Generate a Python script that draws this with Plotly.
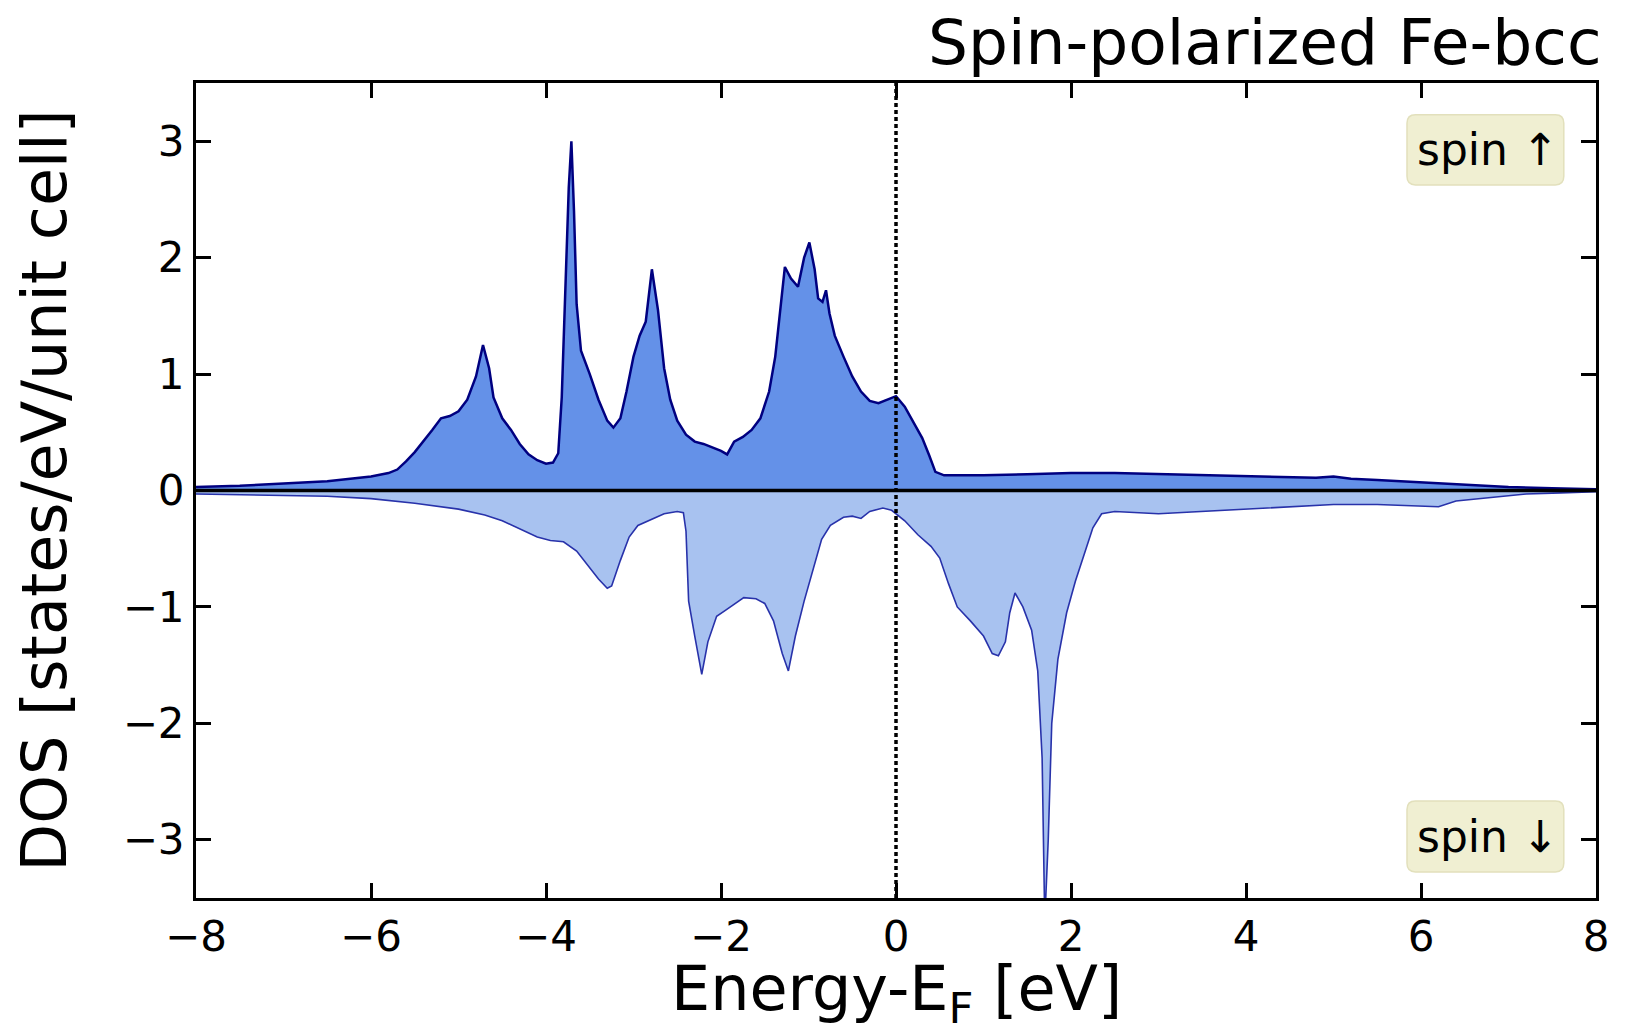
import plotly.graph_objects as go

# ---- data ----
energy_up = [-8.0, -7.5, -7.0, -6.5, -6.0, -5.8, -5.7, -5.6, -5.5, -5.4, -5.3, -5.2, -5.1, -5.0,
             -4.9, -4.8, -4.72, -4.65, -4.6, -4.5, -4.4, -4.3, -4.2, -4.1, -4.0, -3.92, -3.86,
             -3.82, -3.78, -3.74, -3.71, -3.68, -3.65, -3.6, -3.5, -3.4, -3.3, -3.23, -3.15,
             -3.08, -3.0, -2.93, -2.86, -2.79, -2.72, -2.65, -2.58, -2.5, -2.4, -2.3, -2.2,
             -2.1, -2.0, -1.93, -1.85, -1.75, -1.65, -1.55, -1.45, -1.38, -1.32, -1.27, -1.2,
             -1.12, -1.05, -0.99, -0.93, -0.89, -0.84, -0.8, -0.76, -0.7, -0.6, -0.5, -0.4,
             -0.3, -0.2, -0.1, 0.0, 0.1, 0.2, 0.3, 0.38, 0.45, 0.55, 0.7, 1.0, 1.5, 2.0, 2.5,
             3.0, 3.5, 4.0, 4.5, 4.8, 5.0, 5.2, 5.5, 6.0, 6.5, 7.0, 7.5, 8.0]
dos_up = [0.03, 0.04, 0.06, 0.08, 0.12, 0.15, 0.18, 0.25, 0.33, 0.42, 0.52, 0.62, 0.64, 0.68,
          0.78, 0.98, 1.25, 1.05, 0.80, 0.62, 0.52, 0.40, 0.31, 0.26, 0.23, 0.24, 0.32,
          0.8, 1.7, 2.6, 3.0, 2.4, 1.6, 1.2, 1.0, 0.78, 0.60, 0.54, 0.62,
          0.85, 1.15, 1.33, 1.45, 1.90, 1.55, 1.05, 0.78, 0.60, 0.48, 0.42, 0.40,
          0.37, 0.34, 0.31, 0.42, 0.46, 0.52, 0.62, 0.85, 1.15, 1.6, 1.92, 1.82,
          1.75, 2.0, 2.13, 1.9, 1.65, 1.62, 1.72, 1.52, 1.33, 1.15, 0.98, 0.85,
          0.77, 0.75, 0.78, 0.81, 0.72, 0.58, 0.45, 0.30, 0.16, 0.13, 0.13, 0.13, 0.14, 0.15, 0.15,
          0.14, 0.13, 0.12, 0.11, 0.11, 0.12, 0.10, 0.09, 0.07, 0.05, 0.03, 0.02, 0.01]

energy_dn = [-8.0, -7.0, -6.5, -6.0, -5.5, -5.0, -4.7, -4.5, -4.3, -4.1, -3.95, -3.8, -3.65,
             -3.5, -3.4, -3.3, -3.25, -3.15, -3.05, -2.95, -2.8, -2.65, -2.5, -2.43, -2.4,
             -2.37, -2.3, -2.22, -2.15, -2.05, -1.95, -1.86, -1.74, -1.6, -1.5, -1.4, -1.3,
             -1.23, -1.15, -1.05, -0.95, -0.85, -0.75, -0.6, -0.5, -0.4, -0.3, -0.15, -0.05,
             0.1, 0.25, 0.4, 0.5, 0.6, 0.7, 0.85, 1.0, 1.1, 1.17, 1.25, 1.3, 1.36, 1.45, 1.55,
             1.62, 1.67, 1.70, 1.74, 1.78, 1.85, 1.95, 2.05, 2.15, 2.25, 2.35, 2.5, 3.0, 3.5,
             4.0, 4.5, 5.0, 5.5, 6.0, 6.2, 6.4, 6.8, 7.2, 7.6, 8.0]
dos_dn = [-0.03, -0.04, -0.05, -0.07, -0.11, -0.16, -0.21, -0.26, -0.33, -0.40, -0.43, -0.44, -0.52,
          -0.66, -0.76, -0.84, -0.82, -0.60, -0.40, -0.30, -0.25, -0.20, -0.18, -0.19, -0.35,
          -0.95, -1.25, -1.58, -1.30, -1.08, -1.03, -0.98, -0.92, -0.93, -0.97, -1.12, -1.40,
          -1.55, -1.25, -0.95, -0.68, -0.42, -0.30, -0.23, -0.22, -0.24, -0.18, -0.15, -0.17,
          -0.26, -0.38, -0.48, -0.58, -0.80, -1.0, -1.12, -1.25, -1.40, -1.42, -1.30, -1.05, -0.88, -1.0, -1.2,
          -1.55, -2.3, -3.7, -3.0, -2.0, -1.45, -1.05, -0.78, -0.55, -0.32, -0.20, -0.18, -0.20, -0.18,
          -0.16, -0.14, -0.12, -0.12, -0.13, -0.14, -0.09, -0.06, -0.03, -0.02, -0.01]

x_ticks = [-8, -6, -4, -2, 0, 2, 4, 6, 8]
y_ticks = [-3, -2, -1, 0, 1, 2, 3]


def lab(v):
    return ("\u2212" + str(abs(v))) if v < 0 else str(v)


fig = go.Figure()
fig.add_trace(go.Scatter(x=energy_dn, y=dos_dn, mode="lines", fill="tozeroy",
                         fillcolor="rgb(168,194,240)",
                         line=dict(color="rgb(40,50,170)", width=1.6),
                         showlegend=False, hoverinfo="skip"))
fig.add_trace(go.Scatter(x=energy_up, y=dos_up, mode="lines", fill="tozeroy",
                         fillcolor="rgb(100,145,232)",
                         line=dict(color="rgb(0,0,128)", width=2.5),
                         showlegend=False, hoverinfo="skip"))

# zero line and Fermi level
fig.add_shape(type="line", xref="x", yref="y", x0=-8, x1=8, y0=0, y1=0,
              line=dict(color="black", width=3.5))
fig.add_shape(type="line", xref="x", yref="y", x0=0, x1=0, y0=-3.5, y1=3.5,
              line=dict(color="black", width=3.5, dash="4px,3px"))


def rounded_box(x0, y0, x1, y1, rx=0.006, ry=0.0105):
    return (f"M {x0+rx},{y0} L {x1-rx},{y0} Q {x1},{y0} {x1},{y0+ry} "
            f"L {x1},{y1-ry} Q {x1},{y1} {x1-rx},{y1} L {x0+rx},{y1} "
            f"Q {x0},{y1} {x0},{y1-ry} L {x0},{y0+ry} Q {x0},{y0} {x0+rx},{y0} Z")


box_style = dict(type="path", xref="paper", yref="paper",
                 fillcolor="rgb(240,239,210)", line=dict(color="rgb(226,224,188)", width=1.5),
                 layer="above")
fig.add_shape(path=rounded_box(0.865, 0.875, 0.977, 0.961), **box_style)
fig.add_shape(path=rounded_box(0.865, 0.032, 0.977, 0.119), **box_style)

font = "DejaVu Sans"
fig.update_layout(
    width=1628, height=1031,
    margin=dict(l=196, r=32, t=83, b=133),
    paper_bgcolor="white", plot_bgcolor="white",
    font=dict(family=font, color="black"),
    xaxis=dict(range=[-8, 8], tickvals=x_ticks, ticktext=[lab(v) for v in x_ticks],
               ticks="inside", ticklen=15, tickwidth=2.5, tickcolor="black",
               showline=True, linecolor="black", linewidth=3, mirror="ticks",
               showgrid=False, zeroline=False, tickfont=dict(size=42, family=font),
               automargin=False),
    yaxis=dict(range=[-3.5, 3.5], tickvals=y_ticks, ticktext=[lab(v) for v in y_ticks],
               ticks="inside", ticklen=15, tickwidth=2.5, tickcolor="black",
               showline=True, linecolor="black", linewidth=3, mirror="ticks",
               showgrid=False, zeroline=False, tickfont=dict(size=42, family=font),
               automargin=False),
)

# axis titles as annotations (placed like the reference)
fig.add_annotation(text="Energy-E<sub>F</sub> [eV]", xref="paper", yref="paper", x=0.5, y=0,
                   xanchor="center", yanchor="middle", yshift=-94, showarrow=False,
                   font=dict(size=62, family=font, color="black"))
fig.add_annotation(text="DOS [states/eV/unit cell]", xref="paper", yref="paper", x=0, y=0.5,
                   xanchor="center", yanchor="middle", xshift=-152, textangle=-90,
                   showarrow=False, font=dict(size=62, family=font, color="black"))

fig.add_annotation(text="Spin-polarized Fe-bcc", xref="paper", yref="paper", x=1.0, y=1.0,
                   xanchor="right", yanchor="bottom", xshift=8, yshift=2, showarrow=False,
                   font=dict(size=63, family=font, color="black"))
fig.add_annotation(text="spin \u2191", xref="paper", yref="paper", x=0.9225, y=0.918,
                   xanchor="center", yanchor="middle", showarrow=False,
                   font=dict(size=44, family=font, color="black"))
fig.add_annotation(text="spin \u2193", xref="paper", yref="paper", x=0.9225, y=0.0755,
                   xanchor="center", yanchor="middle", showarrow=False,
                   font=dict(size=44, family=font, color="black"))

fig.write_html("out.html")
